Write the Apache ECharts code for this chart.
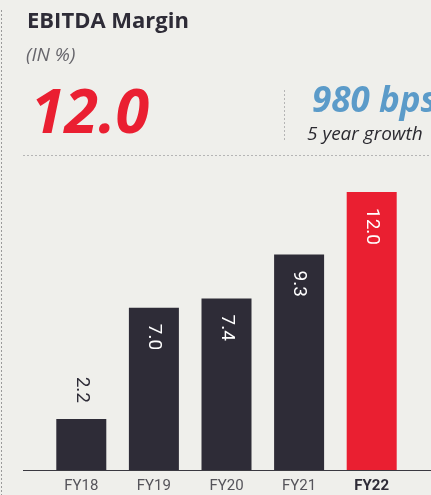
<!DOCTYPE html>
<html>
<head>
<meta charset="utf-8">
<script src="https://cdn.jsdelivr.net/npm/echarts@6/dist/echarts.min.js"></script>
<style>
html,body{margin:0;padding:0;background:#efefeb;}
#c{width:431px;height:495px;}
</style>
</head>
<body>
<div id="c"></div>
<script>
var categories = ['FY18', 'FY19', 'FY20', 'FY21', 'FY22'];
var margins = [2.2, 7.0, 7.4, 9.3, 12.0];
var headlineValue = '12.0';
var growthValue = '980 bps';
var growthLabel = '5 year growth';

var DARK = '#2e2c37';
var RED = '#ea1f31';
var BLUE = '#5b9bc9';
var W = 431, H = 495;
var gridTop = 192, gridBottom = 25;
var axisY = H - gridBottom;

var chart = echarts.init(document.getElementById('c'), null, {renderer: 'canvas'});

var data = margins.map(function (v, i) {
  var last = i === margins.length - 1;
  var small = v < 5;
  return {
    value: v,
    itemStyle: {color: last ? RED : DARK},
    label: small ? {
      show: true, position: 'top', distance: 16, rotate: -90,
      align: 'right', verticalAlign: 'middle', color: DARK
    } : {
      show: true, position: 'insideTop', distance: 16, rotate: -90,
      align: 'left', verticalAlign: 'middle', color: '#ffffff'
    }
  };
});

chart.setOption({
  backgroundColor: '#efefeb',
  animation: false,
  title: [
    {text: 'EBITDA Margin', left: 22, top: 6,
     textStyle: {fontFamily: 'Open Sans', fontWeight: 'bold', fontSize: 22, color: DARK}},
    {text: '(IN %)', left: 21, top: 41,
     textStyle: {fontFamily: 'Open Sans', fontStyle: 'italic', fontWeight: 'normal', fontSize: 19, color: '#66656b'}},
    {text: headlineValue, left: 26, top: 80,
     textStyle: {fontFamily: 'Open Sans', fontStyle: 'italic', fontWeight: 'bold', fontSize: 61, color: RED}},
    {text: growthValue, left: 307, top: 80,
     textStyle: {fontFamily: 'Open Sans', fontStyle: 'italic', fontWeight: 'bold', fontSize: 35, color: BLUE}},
    {text: growthLabel, left: 302, top: 120,
     textStyle: {fontFamily: 'Open Sans', fontStyle: 'italic', fontWeight: 'normal', fontSize: 19, color: '#2b2a30'}}
  ],
  grid: {left: 45, right: 23, top: gridTop, bottom: gridBottom, containLabel: false},
  xAxis: {
    type: 'category',
    data: categories,
    axisLine: {show: false},
    axisTick: {show: false},
    axisLabel: {
      interval: 0,
      margin: 9,
      fontFamily: 'Roboto',
      fontSize: 15,
      color: '#55545a',
      formatter: function (v) {
        return v === categories[categories.length - 1] ? '{b|' + v + '}' : v;
      },
      rich: {b: {fontFamily: 'Roboto', fontSize: 15, fontWeight: 'bold', color: DARK}}
    }
  },
  yAxis: {type: 'value', min: 0, max: 12, show: false, splitLine: {show: false}},
  series: [{
    type: 'bar',
    barWidth: 50,
    data: data,
    label: {fontFamily: 'Roboto', fontSize: 19, formatter: function (p) { return p.value.toFixed(1); }}
  }],
  graphic: [
    {type: 'line', shape: {x1: 1.5, y1: 10, x2: 1.5, y2: H}, style: {stroke: '#9a9a9a', lineWidth: 1, lineDash: [2, 2]}},
    {type: 'line', shape: {x1: 284.5, y1: 90, x2: 284.5, y2: 140}, style: {stroke: '#b5b5b5', lineWidth: 1, lineDash: [2, 2]}},
    {type: 'line', shape: {x1: 23, y1: 155.5, x2: W, y2: 155.5}, style: {stroke: '#b5b5b5', lineWidth: 1, lineDash: [2, 2]}},
    {type: 'line', shape: {x1: 23, y1: axisY + 0.5, x2: W, y2: axisY + 0.5}, style: {stroke: '#3a3940', lineWidth: 1.2}}
  ]
});
</script>
</body>
</html>
